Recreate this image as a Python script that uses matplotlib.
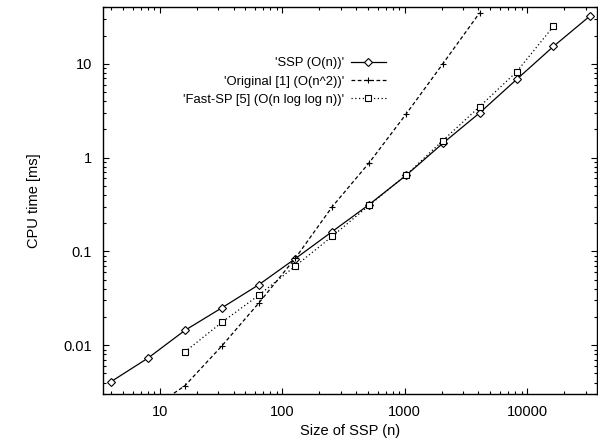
import matplotlib
matplotlib.use("Agg")
import matplotlib.pyplot as plt
from matplotlib.ticker import LogLocator, FixedLocator, NullFormatter

plt.rcParams['font.family'] = ['Liberation Sans', 'DejaVu Sans']

n_ssp = [4, 8, 16, 32, 64, 128, 256, 512, 1024, 2048, 4096, 8192, 16384, 32768]
t_ssp = [0.0041, 0.0073, 0.0144, 0.025, 0.044, 0.084, 0.163, 0.316, 0.645, 1.42, 3.0, 6.8, 15.3, 32.5]

n_orig = [8, 16, 32, 64, 128, 256, 512, 1024, 2048, 4096]
t_orig = [0.0020, 0.0037, 0.0098, 0.028, 0.085, 0.30, 0.88, 2.9, 10.0, 35.0]

n_fast = [16, 32, 64, 128, 256, 512, 1024, 2048, 4096, 8192, 16384]
t_fast = [0.0085, 0.0175, 0.034, 0.070, 0.145, 0.31, 0.65, 1.52, 3.5, 8.2, 25.0]

labels = ["'SSP (O(n))'", "'Original [1] (O(n^2))'", "'Fast-SP [5] (O(n log log n))'"]
xticks = [10, 100, 1000, 10000]
xticklabels = ["10", "100", "1000", "10000"]
yticks = [0.01, 0.1, 1, 10]
yticklabels = ["0.01", "0.1", "1", "10"]

fig = plt.figure(figsize=(5.98, 4.45), dpi=100)
ax = fig.add_axes([103/598, 1 - 394.3/445, (598 - 103)/598 - 0.001, (394.3 - 7.3)/445])

ax.plot(n_ssp, t_ssp, color='black', lw=0.9, ls='-', marker='D', markersize=3.6,
        markerfacecolor='white', markeredgecolor='black', markeredgewidth=0.8, label=labels[0])
ax.plot(n_orig, t_orig, color='black', lw=0.9, ls=(0, (3, 2)), marker='+', markersize=5,
        markeredgewidth=0.8, label=labels[1])
ax.plot(n_fast, t_fast, color='black', lw=0.9, ls=(0, (1, 2)), marker='s', markersize=5,
        markerfacecolor='white', markeredgecolor='black', markeredgewidth=0.8, label=labels[2])

ax.set_xscale('log')
ax.set_yscale('log')
ax.set_xlim(3.43, 37500)
ax.set_ylim(0.003, 40)

ax.xaxis.set_major_locator(FixedLocator(xticks))
ax.set_xticklabels(xticklabels)
ax.yaxis.set_major_locator(FixedLocator(yticks))
ax.set_yticklabels(yticklabels)
ax.xaxis.set_minor_locator(LogLocator(base=10, subs=range(2, 10), numticks=20))
ax.yaxis.set_minor_locator(LogLocator(base=10, subs=range(2, 10), numticks=20))
ax.xaxis.set_minor_formatter(NullFormatter())
ax.yaxis.set_minor_formatter(NullFormatter())

ax.tick_params(which='both', direction='in', top=True, right=True, labelsize=10.5, width=0.8)
ax.tick_params(which='major', length=4.5, pad=8)
ax.tick_params(which='minor', length=2.3)
for s in ax.spines.values():
    s.set_linewidth(1.0)

ax.set_xlabel("Size of SSP (n)", fontsize=10.5, labelpad=3)
ax.set_ylabel("CPU time [ms]", fontsize=10.5, labelpad=16)

leg = ax.legend(loc='upper right', bbox_to_anchor=((386 - 103) / 495, (394.3 - 57) / 387),
                frameon=False, markerfirst=False,
                fontsize=9.4, handlelength=2.65, handletextpad=0.55, labelspacing=0.48,
                borderpad=0, borderaxespad=0)
fig.savefig("out.png", dpi=100)
